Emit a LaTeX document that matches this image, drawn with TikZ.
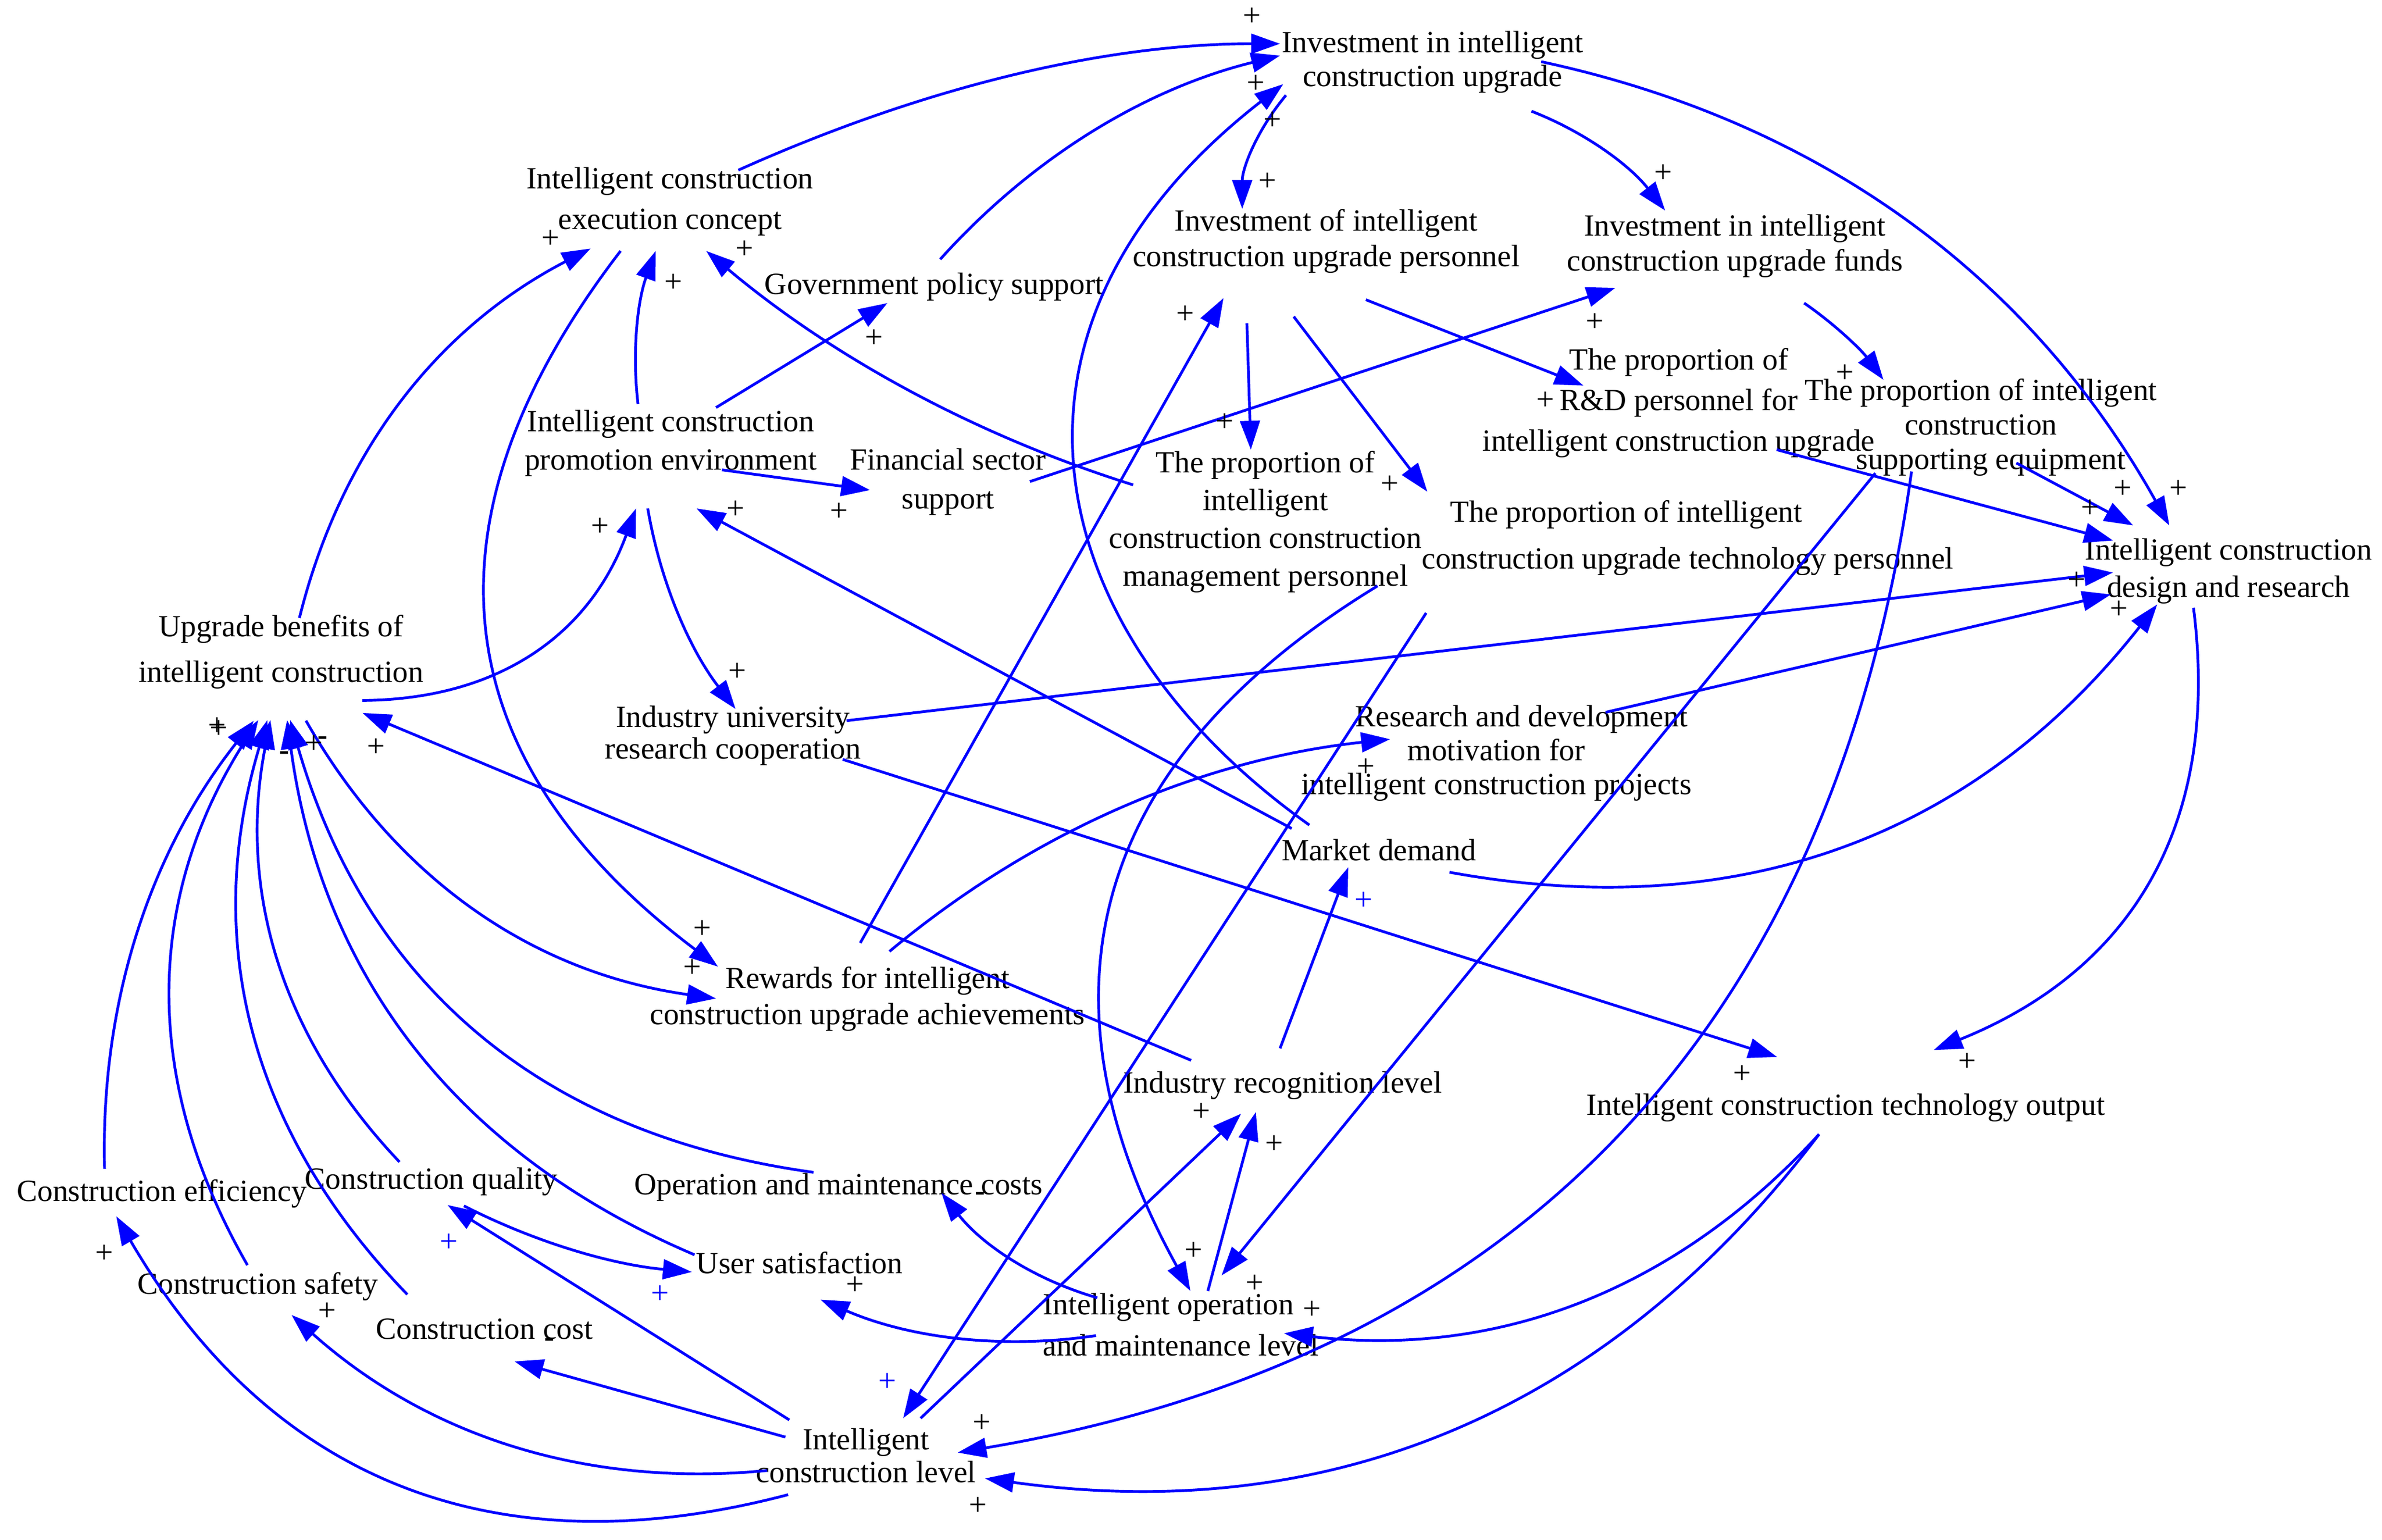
\documentclass[tikz,border=0pt]{standalone}
\usepackage{fontspec}
\setmainfont{Liberation Serif}
\usetikzlibrary{arrows.meta}
\tikzset{
  vn/.style={font=\fontsize{20.3pt}{#1pt}\selectfont, align=center, inner sep=0pt,
             execute at begin node=\strut, execute at end node=\strut},
  vn/.default=24,
  arr/.style={draw=blue, line width=1.8pt, -{Triangle[length=19pt,width=13pt]}},
  sg/.style={font=\fontsize{21pt}{21pt}\selectfont, inner sep=0pt},
  sgb/.style={sg, text=blue},
  sgm/.style={sg, font=\fontsize{20pt}{20pt}\selectfont\bfseries}
}
\newcommand\SetC[3]{\expandafter\def\csname #1X\endcsname{#2}\expandafter\def\csname #1Y\endcsname{#3}}
\newcommand\VN[6][]{\SetC{#2}{#3}{#4}\node[vn=#5,#1] (#2) at (#3,#4) {#6};}
\newcommand\Ept[3]{([shift={(#2-\csname #1X\endcsname,#3-\csname #1Y\endcsname)}]#1.center)}
\begin{document}
\begin{tikzpicture}[x=1pt,y=-1pt]
\fill[white] (0,0) rectangle (1568,1013.75);
\path[use as bounding box] (0,0) rectangle (1568,1013.75);

% ---------------- variables ----------------
\VN{inv}{943}{42}{22.2}{Investment in intelligent\\construction upgrade}
\VN{pers}{873}{160}{23.3}{Investment of intelligent\\construction upgrade personnel}
\VN{funds}{1142}{163.3}{23.3}{Investment in intelligent\\construction upgrade funds}
\VN{rdp}{1105}{267}{26.6}{The proportion of\\R\&D personnel for\\intelligent construction upgrade}
\VN{mgmt}{833}{345}{24.8}{The proportion of\\intelligent\\construction construction\\management personnel}
\VN{tech}{1111}{356.5}{30.5}{The proportion of intelligent\hspace*{81pt}\\construction upgrade technology personnel}
\VN{equip}{1304}{282.5}{22.7}{The proportion of intelligent\\construction\\\hspace*{13pt}supporting equipment}
\VN{design}{1467}{377.5}{24.3}{Intelligent construction\\design and research}
\VN{exec}{441}{134.5}{26.6}{Intelligent construction\\execution concept}
\VN{prom}{441.5}{293.5}{25.5}{Intelligent construction\\promotion environment}
\VN{gov}{615}{189}{24}{Government policy support}
\VN{fin}{624}{319}{25.5}{Financial sector\\support}
\VN{ben}{185}{431.4}{30}{Upgrade benefits of\\intelligent construction}
\VN{iu}{482.5}{485.2}{21}{Industry university\\research cooperation}
\VN{rdm}{985}{497}{22.2}{\hspace*{33pt}Research and development\\motivation for\\intelligent construction projects}
\VN{mkt}{907.6}{561.7}{24}{Market demand}
\VN{rew}{571}{658.9}{23.5}{Rewards for intelligent\\construction upgrade achievements}
\VN{irl}{844.3}{714.7}{24}{Industry recognition level}
\VN{tout}{1215}{729.4}{24}{Intelligent construction technology output}
\VN{ocost}{552}{781.5}{24}{Operation and maintenance costs}
\VN{usat}{526.3}{833.6}{24}{User satisfaction}
\VN[align=left]{om}{777.2}{876}{27.2}{Intelligent operation\\and maintenance level}
\VN{lvl}{570}{961.4}{21.5}{Intelligent\\construction level}
\VN{eff}{106.5}{786}{24}{Construction efficiency}
\VN{qual}{284}{778}{24}{Construction quality}
\VN{saf}{169.7}{847.2}{24}{Construction safety}
\VN{cost}{318.8}{876.6}{24}{Construction cost}

% ---------------- links ----------------
\draw[arr] \Ept{exec}{486}{112} .. controls (609.8,56.5) and (728.7,28.8) .. \Ept{inv}{842.6}{28.8};
\draw[arr] \Ept{gov}{618.9}{170.7} .. controls (679.8,103.1) and (754.3,58.4) .. \Ept{inv}{842.6}{36.6};
\draw[arr] \Ept{mkt}{861.9}{543.1} .. controls (682.6,415.7) and (639.6,215) .. \Ept{inv}{844.7}{55.4};
\draw[arr] \Ept{inv}{846.5}{62.7} .. controls (827.3,85.8) and (817.7,110.7) .. \Ept{pers}{817.7}{137.5};
\draw[arr] \Ept{inv}{1008.1}{73.2} .. controls (1043.4,87) and (1072.8,108.8) .. \Ept{funds}{1096.1}{138.6};
\draw[arr] \Ept{inv}{1014.5}{40.6} .. controls (1198.4,80.1) and (1336.2,181.9) .. \Ept{design}{1428}{345.9};
\draw[arr] \Ept{pers}{899.1}{197.3} -- \Ept{rdp}{1042.3}{253.8};
\draw[arr] \Ept{pers}{820.8}{212.8} -- \Ept{mgmt}{823.4}{296};
\draw[arr] \Ept{pers}{851.6}{208.4} -- \Ept{tech}{939.6}{323.7};
\draw[arr] \Ept{rew}{566.3}{620.7} -- \Ept{pers}{805.4}{196.2};
\draw[arr] \Ept{fin}{677.9}{317} -- \Ept{funds}{1063.3}{189.5};
\draw[arr] \Ept{funds}{1187.6}{199.5} .. controls (1207.8,213.4) and (1225.2,230.3) .. \Ept{equip}{1239.8}{250};
\draw[arr] \Ept{equip}{1327.3}{304.8} -- \Ept{design}{1404.2}{345.9};
\draw[arr] \Ept{rdp}{1169.5}{296} -- \Ept{design}{1390.9}{355.8};
\draw[arr] \Ept{iu}{557.3}{474.4} -- \Ept{design}{1390.9}{376.9};
\draw[arr] \Ept{rdm}{1056.9}{468.9} -- \Ept{design}{1389.6}{391.3};
\draw[arr] \Ept{mkt}{954.2}{574.2} .. controls (1144.9,609) and (1300.2,550.2) .. \Ept{design}{1420}{397.9};
\draw[arr] \Ept{design}{1443.9}{400.1} .. controls (1461.7,541) and (1404.7,638.1) .. \Ept{tout}{1272.9}{691.2};
\draw[arr] \Ept{tout}{1197.4}{746.7} .. controls (1102.3,850.4) and (984.9,894) .. \Ept{om}{845.2}{877.7};
\draw[arr] \Ept{tout}{1197.4}{746.7} .. controls (1058.7,929.4) and (875.7,1004.9) .. \Ept{lvl}{648.4}{973.2};
\draw[arr] \Ept{equip}{1234.5}{311.5} -- \Ept{om}{804.1}{839.6};
\draw[arr] \Ept{equip}{1258.3}{310.4} .. controls (1206.7,679) and (997.4,894.3) .. \Ept{lvl}{630.4}{956.2};
\draw[arr] \Ept{mgmt}{906.8}{385.7} .. controls (717.6,501) and (676.5,655.7) .. \Ept{om}{783.6}{849.8};
\draw[arr] \Ept{om}{722.3}{854.3} .. controls (680.6,842.3) and (646.4,819.3) .. \Ept{ocost}{619.7}{785.2};
\draw[arr] \Ept{om}{721.5}{879.2} .. controls (658.8,888.5) and (598.3,880.6) .. \Ept{usat}{540.1}{855.5};
\draw[arr] \Ept{irl}{842.6}{690.1} -- \Ept{mkt}{887.5}{570.9};
\draw[arr] \Ept{om}{795.1}{849.8} -- \Ept{irl}{826.7}{732};
\draw[arr] \Ept{lvl}{606}{933.6} -- \Ept{irl}{817}{733.1};
\draw[arr] \Ept{tech}{938.8}{403.5} -- \Ept{lvl}{594.5}{933.6};
\draw[arr] \Ept{irl}{784.1}{698} -- \Ept{ben}{238.6}{469.3};
\draw[arr] \Ept{mkt}{850.3}{545.4} -- \Ept{prom}{458.5}{334.7};
\draw[arr] \Ept{mgmt}{745.9}{319.2} .. controls (642,286.5) and (548.3,235.2) .. \Ept{exec}{464.9}{165.2};
\draw[arr] \Ept{prom}{420}{266} .. controls (415.9,231.5) and (419.7,197.9) .. \Ept{exec}{431.6}{165.2};
\draw[arr] \Ept{prom}{471.3}{268.3} -- \Ept{gov}{584.2}{199.5};
\draw[arr] \Ept{prom}{475.2}{309.3} -- \Ept{fin}{572.7}{322.6};
\draw[arr] \Ept{prom}{426.4}{334.7} .. controls (434.7,383.5) and (454,427.5) .. \Ept{iu}{484.2}{466.7};
\draw[arr] \Ept{ben}{197.1}{406.8} .. controls (224.4,296.8) and (288.3,215.7) .. \Ept{exec}{388.8}{163.6};
\draw[arr] \Ept{ben}{238.6}{461.1} .. controls (327.7,460.4) and (387.8,418.3) .. \Ept{prom}{418.7}{334.7};
\draw[arr] \Ept{eff}{68.8}{769.4} .. controls (66.1,659.3) and (98.8,561) .. \Ept{ben}{167}{474.5};
\draw[arr] \Ept{saf}{162.9}{832.8} .. controls (93.3,711.7) and (95.6,592.1) .. \Ept{ben}{170}{474};
\draw[arr] \Ept{cost}{268.1}{852.1} .. controls (163.6,744) and (132.9,618) .. \Ept{ben}{176}{474};
\draw[arr] \Ept{qual}{263}{764.9} .. controls (184.8,682.5) and (156.5,585.5) .. \Ept{ben}{178}{474};
\draw[arr] \Ept{usat}{457.2}{826} .. controls (301,759.6) and (211.6,642.3) .. \Ept{ben}{189}{474};
\draw[arr] \Ept{ocost}{535.5}{771.7} .. controls (356.1,747.1) and (241.3,647.9) .. \Ept{ben}{191}{474};
\draw[arr] \Ept{ben}{201.4}{474.4} .. controls (261.5,579.5) and (351.4,640.4) .. \Ept{rew}{471.3}{657.3};
\draw[arr] \Ept{exec}{408.5}{165.2} .. controls (271.3,343.8) and (292.7,500.9) .. \Ept{rew}{472.6}{636.3};
\draw[arr] \Ept{rew}{585.5}{626.3} .. controls (681.3,546.5) and (791.2,500) .. \Ept{rdm}{915}{486.6};
\draw[arr] \Ept{lvl}{519.6}{934.7} -- \Ept{qual}{294.6}{793.2};
\draw[arr] \Ept{lvl}{517}{946} -- \Ept{cost}{338.7}{896.2};
\draw[arr] \Ept{lvl}{505}{968} .. controls (385.7,979.5) and (281.3,945.3) .. \Ept{saf}{191.9}{865.6};
\draw[arr] \Ept{lvl}{518.8}{983.9} .. controls (325,1034.9) and (177.5,973.8) .. \Ept{eff}{76.5}{800.6};
\draw[arr] \Ept{qual}{305.4}{793.8} .. controls (352.6,817.9) and (402.6,832.4) .. \Ept{usat}{455.4}{837.3};
\draw[arr] \Ept{iu}{554.7}{499.9} -- \Ept{tout}{1169.8}{695.8};

% ---------------- polarities ----------------
\node[sg] (s1) at (824.1,11.1) {+};
\node[sg] (s2) at (826.7,55.4) {+};
\node[sg] (s3) at (837.5,79.4) {+};
\node[sg] (s4) at (834.4,119.7) {+};
\node[sg] (s5) at (1094.9,114.2) {+};
\node[sg] (s6) at (780.3,207.3) {+};
\node[sg] (s7) at (1049.9,212.4) {+};
\node[sg] (s8) at (806.2,278.2) {+};
\node[sg] (s9) at (915,319.2) {+};
\node[sg] (s10) at (1017.1,263.8) {+};
\node[sg] (s11) at (1214.6,246.1) {+};
\node[sg] (s12) at (1434.1,321.9) {+};
\node[sg] (s13) at (1397.5,321.9) {+};
\node[sg] (s14) at (1375.8,334.7) {+};
\node[sg] (s15) at (1367,382.4) {+};
\node[sg] (s16) at (1394.9,401.3) {+};
\node[sg] (s17) at (362.6,157.4) {+};
\node[sg] (s18) at (490.1,164.5) {+};
\node[sg] (s19) at (443.1,186.2) {+};
\node[sg] (s20) at (575.3,222.8) {+};
\node[sg] (s21) at (552.2,337) {+};
\node[sg] (s22) at (394.9,346.9) {+};
\node[sg] (s23) at (484.2,335.4) {+};
\node[sg] (s24) at (485.5,442.3) {+};
\node[sg] (s25) at (142.9,478.2) {+};
\node[sg] (s26) at (144.2,480) {+};
\node[sg] (s27) at (206.6,490) {+};
\node[sgm] (s28) at (212.5,487.5) {-};
\node[sgm] (s29) at (187.3,497.5) {-};
\node[sg] (s30) at (247.6,492.1) {+};
\node[sg] (s31) at (462.4,611.9) {+};
\node[sg] (s32) at (455.9,637.4) {+};
\node[sgb] (s33) at (897.8,593) {+};
\node[sg] (s34) at (899.1,505.4) {+};
\node[sg] (s35) at (790.8,732) {+};
\node[sg] (s36) at (838.8,753.5) {+};
\node[sg] (s37) at (785.6,823.7) {+};
\node[sg] (s38) at (825.9,845.3) {+};
\node[sg] (s39) at (863.7,862.3) {+};
\node[sg] (s40) at (1146.7,707.1) {+};
\node[sg] (s41) at (1294.9,699.2) {+};
\node[sgb] (s42) at (584.2,909.8) {+};
\node[sg] (s43) at (646.3,937) {+};
\node[sg] (s44) at (643.8,991.4) {+};
\node[sgb] (s45) at (434.6,852.1) {+};
\node[sg] (s46) at (563,846.4) {+};
\node[sg] (s47) at (68.8,825.6) {+};
\node[sg] (s48) at (215.5,863.4) {+};
\node[sgb] (s49) at (295.6,818.1) {+};
\node[sgm] (s50) at (645.3,787.5) {-};
\node[sgm] (s51) at (361.8,884) {-};
\end{tikzpicture}
\end{document}
